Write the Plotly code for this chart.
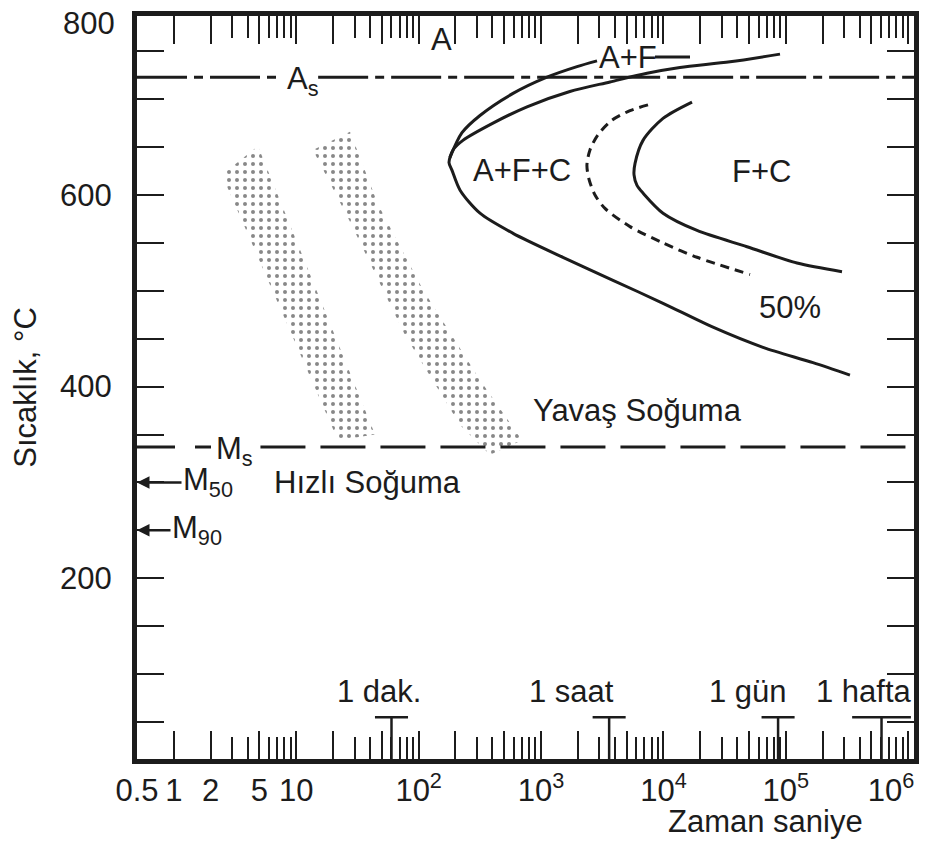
import numpy as np
import plotly.graph_objects as go

# ---------------------------------------------------------------------------
# Isothermal transformation (TTT) diagram: time [s] vs temperature [°C]
# ---------------------------------------------------------------------------

# transformation start, outer C-curve (lower branch -> nose -> upper branch)
start_t = [334000, 166700, 65000, 25400, 9920, 3870, 1510, 590, 317, 218, 187, 177,
           191, 230, 405, 768, 1720, 3660, 7340, 13650, 35000, 89600]
start_T = [412, 425, 441, 462, 487, 511, 535, 560, 581, 605, 626, 634,
           647, 657, 675, 692, 708, 718, 727, 733, 739, 747]

# ferrite-start branch leaving the nose towards the A+F field
ferrite_t = [180, 226, 317, 590, 1118, 1967, 2866]
ferrite_T = [639, 665, 683, 706, 723, 734, 740]

# 50 % transformed (dashed)
half_t = [7480, 5330, 3800, 2920, 2510, 2370, 2470, 2760, 3330, 5330, 9920, 18800, 50950]
half_T = [694, 688, 678, 663, 647, 631, 616, 600, 586, 567, 550, 535, 517]

# transformation finish
finish_t = [17120, 9920, 6810, 5860, 5750, 6080, 6810, 9920, 18800, 48150, 123400, 287600]
finish_T = [697, 680, 657, 633, 621, 610, 602, 581, 563, 546, 529, 520]

# cooling bands (outlines of the stippled areas)
fast_t = [2.47, 4.87, 44.0, 21.9]
fast_T = [621, 651, 350, 344]
slow_t = [13.7, 27.5, 46.6, 108.5, 317, 699, 383, 218, 77.3, 27.5]
slow_T = [647, 666, 590, 501, 407, 344, 329, 360, 454, 572]

# characteristic temperatures
As_T = 723
Ms_T = 337
M50_T = 300
M90_T = 250

# time landmarks on the time axis
mark_t = [60, 3600, 86400, 604800]
mark_labels = ["1 dak.", "1 saat", "1 gün", "1 hafta"]

# axis ticks
NB = "\u00a0"
x_label_vals = [0.5, 1, 2, 5, 10, 100, 1e3, 1e4, 1e5, 1e6]
x_label_text = ["0.5", "1", "2", "5", "10", "10<sup>2</sup>", "10<sup>3</sup>",
                "10<sup>4</sup>", "10<sup>5</sup>", "10<sup>6</sup>" + NB * 4]
y_tick_vals = list(range(50, 800, 50))
y_label_vals = [200, 400, 600]

# ---------------------------------------------------------------------------
X_RANGE = [np.log10(0.5), 6.047]
Y_RANGE = [11.4, 786.8]
x_max = 10 ** X_RANGE[1]
INK = "#1c1c1c"
FONT = "Liberation Sans, Arial, Helvetica, sans-serif"
FS = 31

# major (1-2-5) and minor ticks of the log time axis
major = sorted(set(x_label_vals) | {m * 10 ** e for e in range(1, 6) for m in (2, 5)})
minor = [m * 10 ** e for e in range(0, 6) for m in (3, 4, 6, 7, 8, 9)]
lab = dict(zip(x_label_vals, x_label_text))
major_text = [lab.get(v, "") for v in major]

fig = go.Figure()

line_style = dict(color=INK, width=3)

# stippled cooling bands
for bt, bT in ((fast_t, fast_T), (slow_t, slow_T)):
    fig.add_trace(go.Scatter(
        x=bt + bt[:1], y=bT + bT[:1], mode="none", fill="toself",
        fillcolor="rgba(0,0,0,0)",
        fillpattern=dict(shape=".", size=8, solidity=0.2, fgcolor="#111111",
                         bgcolor="rgba(0,0,0,0)", fillmode="overlay"),
        hoverinfo="skip", showlegend=False))

# A_s line (long-short dash), broken around its label
for seg in ([0.5, 7.65], [15.1, x_max]):
    fig.add_trace(go.Scatter(x=seg, y=[As_T, As_T], mode="lines",
                             line=dict(color=INK, width=3, dash="50px,7px,9px,7px"),
                             hoverinfo="skip", showlegend=False))

# M_s line, broken around its label
fig.add_trace(go.Scatter(x=[0.5, 2.05], y=[Ms_T, Ms_T], mode="lines",
                         line=dict(color=INK, width=3, dash="38px,20px,16px,8px"),
                         hoverinfo="skip", showlegend=False))
fig.add_trace(go.Scatter(x=[5.1, x_max], y=[Ms_T, Ms_T], mode="lines",
                         line=dict(color=INK, width=3, dash="45px,15px"),
                         hoverinfo="skip", showlegend=False))

# transformation curves
fig.add_trace(go.Scatter(x=start_t, y=start_T, mode="lines",
                         line=dict(shape="spline", smoothing=0.8, **line_style),
                         showlegend=False))
fig.add_trace(go.Scatter(x=ferrite_t, y=ferrite_T, mode="lines",
                         line=dict(shape="spline", smoothing=0.8, **line_style),
                         showlegend=False))
fig.add_trace(go.Scatter(x=half_t, y=half_T, mode="lines",
                         line=dict(shape="spline", smoothing=0.8, color=INK, width=3,
                                   dash="9px,6px"),
                         showlegend=False))
fig.add_trace(go.Scatter(x=finish_t, y=finish_T, mode="lines",
                         line=dict(shape="spline", smoothing=0.8, **line_style),
                         showlegend=False))

# leader dash after the A+F label
fig.add_trace(go.Scatter(x=[8530, 16480], y=[744, 744], mode="lines",
                         line=dict(color=INK, width=3), hoverinfo="skip",
                         showlegend=False))

# T-shaped time landmarks standing on the time axis
bar_T = 55
tx, ty = [], []
for t in mark_t:
    half = 0.24 if t > 2e5 else 0.135
    tx += [t, t, None, t / 10 ** half, t * 10 ** half, None]
    ty += [Y_RANGE[0], bar_T, None, bar_T, bar_T, None]
fig.add_trace(go.Scatter(x=tx, y=ty, mode="lines", line=dict(color=INK, width=2.5),
                         hoverinfo="skip", showlegend=False))

annotations = []


def label(t, T, text, **kw):
    a = dict(x=np.log10(t), y=T, xref="x", yref="y", text=text, showarrow=False,
             xanchor="center", yanchor="middle",
             font=dict(family=FONT, size=FS, color=INK))
    a.update(kw)
    annotations.append(a)


label(155, 762, "A")
label(2866, 744, "A+F", xanchor="left")
label(8.09, As_T, "A<sub>s</sub>", xanchor="left", yshift=-4)
label(699, 626, "A+F+C")
label(62670, 625, "F+C")
label(108100, 483, "50%")
label(6081, 375, "Yavaş Soğuma")
label(37.9, 300, "Hızlı Soğuma")
label(2.13, Ms_T, "M<sub>s</sub>", xanchor="left", yshift=-4)

shifts = [-12, -38, -30, -18]
for t, s, dx in zip(mark_t, mark_labels, shifts):
    label(t, 82, s, xshift=dx)

# M50 / M90 arrows pointing at the temperature axis
for T, txt, dx in ((M50_T, "M<sub>50</sub>", 71), (M90_T, "M<sub>90</sub>", 60)):
    annotations.append(dict(
        x=np.log10(0.5), y=T, xref="x", yref="y", text=txt, showarrow=True,
        ax=dx, ay=0, arrowhead=2, arrowsize=1, arrowwidth=2.5, arrowcolor=INK,
        font=dict(family=FONT, size=FS, color=INK)))

# top label of the temperature scale
annotations.append(dict(x=0, y=778.5, xref="paper", yref="y", text="800",
                        xanchor="right", yanchor="middle", xshift=-20, showarrow=False,
                        font=dict(family=FONT, size=FS, color=INK)))

# time axis title
annotations.append(dict(x=(765 - 137) / 777, y=(759 - 821) / 743, xref="paper",
                        yref="paper", xanchor="center", yanchor="middle",
                        text="Zaman saniye", showarrow=False,
                        font=dict(family=FONT, size=FS, color=INK)))

axis_common = dict(showline=True, linewidth=5, linecolor=INK, mirror="allticks",
                   ticks="inside", tickcolor=INK, tickwidth=2, showgrid=False,
                   zeroline=False, automargin=False,
                   tickfont=dict(family=FONT, size=FS, color=INK))

fig.update_layout(
    width=926, height=841, autosize=False,
    margin=dict(l=137, r=12, t=16, b=82),
    paper_bgcolor="white", plot_bgcolor="white",
    annotations=annotations,
    xaxis=dict(type="log", range=X_RANGE, tickvals=major, ticktext=major_text,
               ticklen=28, ticklabelstandoff=0, ticklabeloverflow="allow",
               minor=dict(tickvals=minor, ticklen=22, tickwidth=2, tickcolor=INK,
                          ticks="inside"),
               **axis_common),
    yaxis=dict(range=Y_RANGE, tickvals=y_tick_vals,
               ticktext=[str(v) if v in y_label_vals else "" for v in y_tick_vals],
               ticklen=27, ticklabelstandoff=14,
               title=dict(text="Sıcaklık, °C", standoff=16,
                          font=dict(family=FONT, size=FS, color=INK)),
               **axis_common),
)

fig.write_html("out.html")
